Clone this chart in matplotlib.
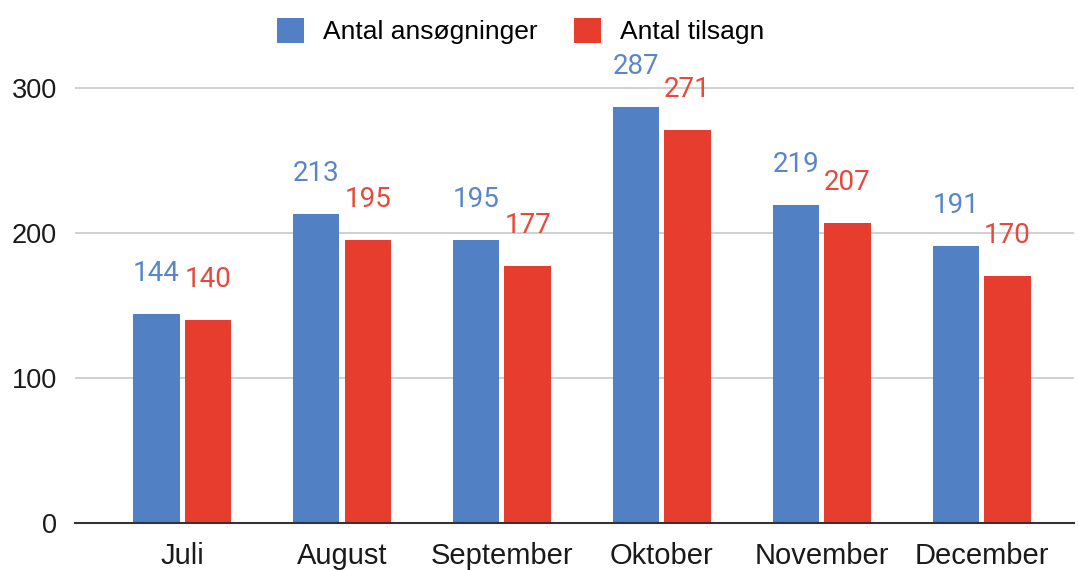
import matplotlib.pyplot as plt
import numpy as np

plt.rcParams['font.family'] = ['Liberation Sans', 'DejaVu Sans']

months = ["Juli", "August", "September", "Oktober", "November", "December"]
ansoegninger = [144, 213, 195, 287, 219, 191]
tilsagn = [140, 195, 177, 271, 207, 170]

blue = "#5280c4"
red = "#e63d2f"

fig = plt.figure(figsize=(10.78, 5.70), dpi=100)
ax = fig.add_axes([0.0696, 0.0825, 0.927, 0.814])

x = np.arange(len(months))
w = 0.29
gap = 0.016
b1 = ax.bar(x - w / 2 - gap, ansoegninger, w, color=blue, label="Antal ansøgninger", zorder=3)
b2 = ax.bar(x + w / 2 + gap, tilsagn, w, color=red, label="Antal tilsagn", zorder=3)

# value labels above the bars
for bars, vals, c in [(b1, ansoegninger, "#5a86c8"), (b2, tilsagn, "#e8493c")]:
    for rect, v in zip(bars, vals):
        ax.annotate(str(v), (rect.get_x() + rect.get_width() / 2, v),
                    xytext=(0, 24), textcoords="offset points",
                    ha="center", va="baseline", fontsize=20, color=c,
                    family=["Roboto", "DejaVu Sans"], annotation_clip=False)

ax.set_xlim(-0.67, 5.58)
ax.set_ylim(0, 320)
ax.set_yticks([0, 100, 200, 300])
ax.set_xticks(x)
ax.set_xticklabels(months)
ax.tick_params(axis="both", length=0, colors="#1a1a1a")
ax.tick_params(axis="x", pad=14, labelsize=21)
ax.tick_params(axis="y", pad=13, labelsize=19.5)
ax.grid(axis="y", color="#c8c8c8", linewidth=1.2, zorder=0)
for s in ["top", "right", "left"]:
    ax.spines[s].set_visible(False)
ax.spines["bottom"].set_color("#333333")
ax.spines["bottom"].set_linewidth(1.5)
ax.spines["bottom"].set_zorder(4)

ax.legend(loc="center", bbox_to_anchor=(0.446, 1.06), ncol=2, frameon=False,
          fontsize=19, handlelength=1.0, handleheight=1.05, columnspacing=1.4,
          handletextpad=0.72, borderpad=0)

fig.savefig("out.png", dpi=100)
